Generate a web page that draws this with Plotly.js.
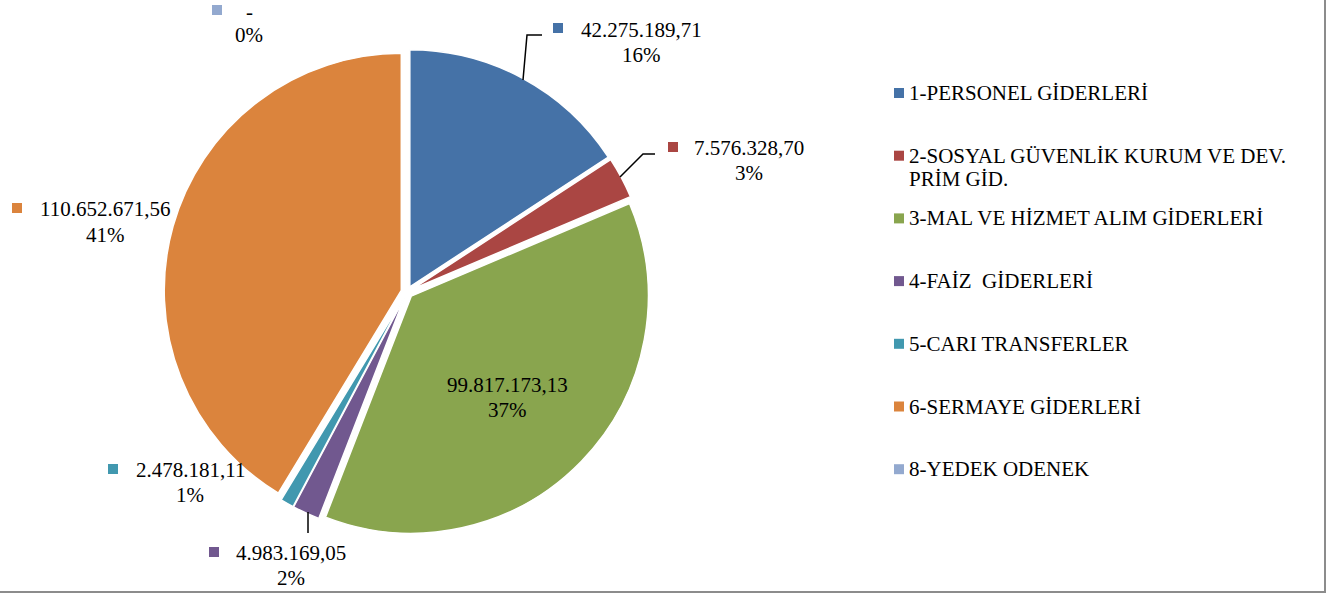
<!DOCTYPE html>
<html>
<head>
<meta charset="utf-8">
<script src="https://cdn.plot.ly/plotly-3.0.1.min.js"></script>
<style>html,body{margin:0;padding:0;background:#fff;}#chart{width:1338px;height:595px;}</style>
</head>
<body>
<div id="chart"></div>
<script>
// ---- data ----
const categories = [
  "1-PERSONEL GİDERLERİ",
  "2-SOSYAL GÜVENLİK KURUM VE DEV. PRİM GİD.",
  "3-MAL VE HİZMET ALIM GİDERLERİ",
  "4-FAİZ  GİDERLERİ",
  "5-CARI TRANSFERLER",
  "6-SERMAYE GİDERLERİ",
  "8-YEDEK ODENEK"
];
const values = [42275189.71, 7576328.70, 99817173.13, 4983169.05, 2478181.11, 110652671.56, 0];
const colors = ["#4572A7", "#AA4643", "#89A54E", "#71588F", "#4198AF", "#DB843D", "#93A9CF"];

// ---- layout helpers (pixel -> paper) ----
const W = 1338, H = 595;
const X = px => px / W;
const Y = py => 1 - py / H;
const FONT = "Liberation Serif";

function fmtTR(v) {
  if (v === 0) return "-";
  const parts = v.toFixed(2).split(".");
  return parts[0].replace(/\B(?=(\d{3})+(?!\d))/g, ".") + "," + parts[1];
}
const total = values.reduce((a, b) => a + b, 0);
const pct = v => Math.round(v / total * 100) + "%";

// label placement (pixel positions): [textCenterX, line1Y, line2Y, squareX, squareY]
const labelPos = [
  [641, 30, 55, 558, 28],
  [749, 148, 173, 673, 147],
  [507, 385, 410, null, null],
  [291, 553, 578, 214, 552],
  [190, 470, 495, 113, 469],
  [105, 209, 235, 17, 208],
  [249, 12, 35, 217, 10]
];
// leader lines (pixel paths)
const leaders = [
  [[523, 80], [527, 35], [542, 35]],
  [[620, 177], [643, 154], [655, 154]],
  null,
  [[308, 512], [308, 533]],
  null, null, null
];

const annotations = [];
const shapes = [];

values.forEach((v, i) => {
  const p = labelPos[i];
  annotations.push({xref: "paper", yref: "paper", x: X(p[0]), y: Y(p[1]), xanchor: "center", yanchor: "middle",
    text: fmtTR(v), showarrow: false, font: {family: FONT, size: 21, color: "#000"}});
  annotations.push({xref: "paper", yref: "paper", x: X(p[0]), y: Y(p[2]), xanchor: "center", yanchor: "middle",
    text: pct(v), showarrow: false, font: {family: FONT, size: 21, color: "#000"}});
  if (p[3] !== null) {
    shapes.push({type: "rect", xref: "paper", yref: "paper", x0: X(p[3] - 5), x1: X(p[3] + 5), y0: Y(p[4] + 5), y1: Y(p[4] - 5),
      fillcolor: colors[i], line: {width: 0}});
  }
  const L = leaders[i];
  if (L) {
    const path = L.map((pt, k) => (k === 0 ? "M" : "L") + X(pt[0]) + "," + Y(pt[1])).join(" ");
    shapes.push({type: "path", xref: "paper", yref: "paper", path: path, line: {color: "#000", width: 1.5}});
  }
});

// custom legend
function wrap(s, maxChars) {
  const words = s.split(" ");
  const lines = [];
  let cur = "";
  words.forEach(w => {
    const t = cur ? cur + " " + w : w;
    if (t.length > maxChars && cur) { lines.push(cur); cur = w; } else { cur = t; }
  });
  lines.push(cur);
  return lines;
}
const legTop = 93, legStep = 62.7, legLine = 23;
categories.forEach((c, i) => {
  const yc = legTop + legStep * i;
  shapes.push({type: "rect", xref: "paper", yref: "paper", x0: X(894), x1: X(904), y0: Y(yc + 5), y1: Y(yc - 5),
    fillcolor: colors[i], line: {width: 0}});
  wrap(c, 31).forEach((ln, k) => {
    annotations.push({xref: "paper", yref: "paper", x: X(907), y: Y(yc + k * legLine), xanchor: "left", yanchor: "middle",
      text: ln, showarrow: false, font: {family: FONT, size: 21, color: "#000"}});
  });
});

// outer border (right and bottom)
shapes.push({type: "line", xref: "paper", yref: "paper", x0: X(1325), x1: X(1325), y0: Y(0), y1: Y(592), line: {color: "#8c8c8c", width: 2}});
shapes.push({type: "line", xref: "paper", yref: "paper", x0: X(0), x1: X(1326), y0: Y(592), y1: Y(592), line: {color: "#8c8c8c", width: 2}});

const trace = {
  type: "pie",
  labels: categories,
  values: values,
  sort: false,
  direction: "clockwise",
  rotation: 0,
  pull: values.map(() => 0.025),
  marker: {colors: colors, line: {color: "#ffffff", width: 1.5}},
  textinfo: "none",
  hoverinfo: "label+value+percent",
  showlegend: false,
  domain: {x: [X(164), X(650)], y: [Y(535), Y(49)]}
};

const layout = {
  width: W, height: H,
  margin: {l: 0, r: 0, t: 0, b: 0},
  paper_bgcolor: "#ffffff",
  showlegend: false,
  separators: ",.",
  annotations: annotations,
  shapes: shapes,
  font: {family: FONT}
};

Plotly.newPlot("chart", [trace], layout, {displayModeBar: false, staticPlot: true});
</script>
</body>
</html>
